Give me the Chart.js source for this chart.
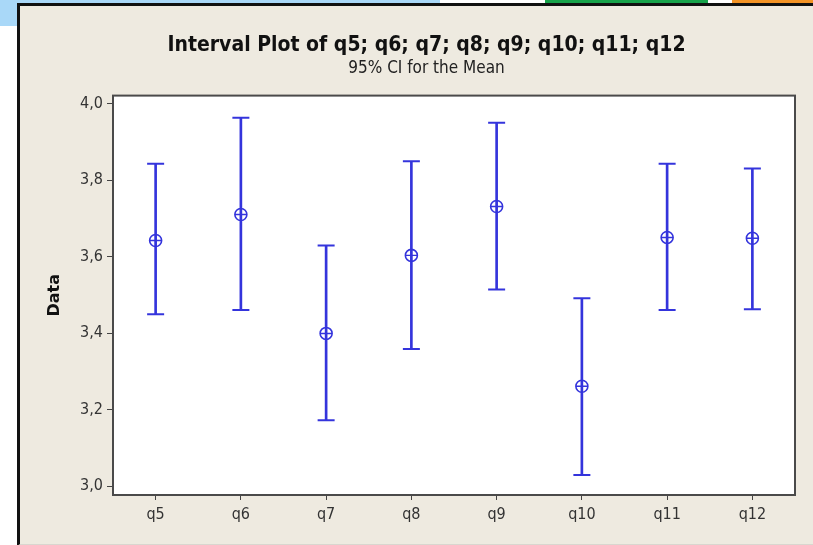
<!DOCTYPE html>
<html>
<head>
<meta charset="utf-8">
<script src="https://cdn.jsdelivr.net/npm/chart.js@4/dist/chart.umd.min.js"></script>
<style>
  html, body { margin: 0; padding: 0; width: 813px; height: 545px; overflow: hidden; background: #ffffff; }
  #bgTopLeft { position: absolute; left: 0; top: 0; width: 440px; height: 4px; background: #a9d8f8; }
  #bgLeft { position: absolute; left: 0; top: 0; width: 18px; height: 26px; background: #a9d8f8; }
  #bgGreen { position: absolute; left: 545px; top: 0; width: 163px; height: 4px; background: #17a24a; }
  #bgOrange { position: absolute; left: 732px; top: 0; width: 81px; height: 4px; background: #f39325; }
  #panel { position: absolute; left: 17px; top: 3px; width: 820px; height: 538px;
           border-left: 3px solid #111; border-top: 3px solid #111; border-bottom: 2px solid #d9d6cf; background: #eeeae0; }
  #wrap { position: absolute; left: 0; top: 0; width: 813px; height: 545px; }
</style>
</head>
<body>
<div id="bgTopLeft"></div><div id="bgLeft"></div><div id="bgGreen"></div><div id="bgOrange"></div>
<div id="panel"></div>
<div id="wrap"><canvas id="c" width="813" height="545"></canvas></div>
<script>
const categories = ['q5', 'q6', 'q7', 'q8', 'q9', 'q10', 'q11', 'q12'];
const means = [3.642, 3.710, 3.399, 3.603, 3.731, 3.261, 3.650, 3.648];
const upper = [3.843, 3.963, 3.629, 3.849, 3.950, 3.491, 3.843, 3.830];
const lower = [3.449, 3.460, 3.172, 3.358, 3.514, 3.029, 3.460, 3.462];
const yTickValues = [3.0, 3.2, 3.4, 3.6, 3.8, 4.0];
const yTickLabels = ['3,0', '3,2', '3,4', '3,6', '3,8', '4,0'];
const titleText = 'Interval Plot of q5; q6; q7; q8; q9; q10; q11; q12';
const subtitleText = '95% CI for the Mean';
const yAxisTitle = 'Data';

const BLUE = '#3434dc';
const plotFrame = {
  id: 'plotFrame',
  beforeDraw(chart) {
    const a = chart.chartArea, ctx = chart.ctx;
    ctx.save();
    ctx.fillStyle = '#ffffff';
    ctx.fillRect(a.left, a.top, a.right - a.left, a.bottom - a.top);
    ctx.restore();
  },
  afterDraw(chart) {
    const a = chart.chartArea, ctx = chart.ctx;
    ctx.save();
    ctx.strokeStyle = '#4a4a4a';
    ctx.lineWidth = 2;
    ctx.strokeRect(a.left, a.top, a.right - a.left, a.bottom - a.top);
    ctx.restore();
  }
};

new Chart(document.getElementById('c'), {
  type: 'bar',
  data: {
    labels: categories,
    datasets: [
      { type: 'bar', data: lower.map((l, i) => [l, upper[i]]), backgroundColor: BLUE, borderWidth: 0, barThickness: 2, order: 5 },
      { type: 'line', data: upper, showLine: false, pointStyle: 'line', pointRadius: 8.5, borderColor: BLUE, borderWidth: 2, order: 1 },
      { type: 'line', data: lower, showLine: false, pointStyle: 'line', pointRadius: 8.5, borderColor: BLUE, borderWidth: 2, order: 1 },
      { type: 'line', data: means, showLine: false, pointStyle: 'circle', pointRadius: 6, borderColor: BLUE, backgroundColor: 'rgba(0,0,0,0)', borderWidth: 1.6, order: 1 },
      { type: 'line', data: means, showLine: false, pointStyle: 'cross', pointRadius: 6, borderColor: BLUE, borderWidth: 1.4, order: 1 }
    ]
  },
  options: {
    responsive: false,
    animation: false,
    devicePixelRatio: 1,
    layout: { padding: { left: 58, right: 18, top: 0, bottom: 0 } },
    plugins: {
      legend: { display: false },
      tooltip: { enabled: false },
      title: { display: true, text: titleText, color: '#111',
               font: { family: "'DejaVu Sans Condensed', 'Liberation Sans', sans-serif", size: 21, weight: 'bold', lineHeight: 1.2 },
               padding: { top: 33, bottom: 0 } },
      subtitle: { display: true, text: subtitleText, color: '#222',
               font: { family: "'DejaVu Sans Condensed', 'DejaVu Sans', sans-serif", size: 17, lineHeight: 1.2 },
               padding: { top: 0, bottom: 17 } }
    },
    scales: {
      x: {
        offset: true,
        grid: { display: true, offset: false, drawOnChartArea: false, drawTicks: true, tickLength: 5, color: '#444', lineWidth: 1 },
        border: { display: false },
        ticks: { color: '#333', padding: 5, font: { family: "'DejaVu Sans Condensed', 'DejaVu Sans', sans-serif", size: 16 } },
        afterFit(s) { s.height = 50; }
      },
      y: {
        min: 2.9765, max: 4.0209,
        afterBuildTicks(s) { s.ticks = yTickValues.map(v => ({ value: v })); },
        grid: { display: true, drawOnChartArea: false, drawTicks: true, tickLength: 6, color: '#444', lineWidth: 1 },
        border: { display: false },
        ticks: { color: '#333', padding: 4, font: { family: "'DejaVu Sans Condensed', 'DejaVu Sans', sans-serif", size: 16 },
                 callback: (v, i) => yTickLabels[i] },
        title: { display: true, text: yAxisTitle, color: '#111',
                 font: { family: "'DejaVu Sans', sans-serif", size: 16, weight: 'bold', lineHeight: 1.2 },
                 padding: { top: -12.6, bottom: 0 } },
        afterFit(s) { s.width = 55; }
      }
    }
  },
  plugins: [plotFrame]
});
</script>
</body>
</html>
